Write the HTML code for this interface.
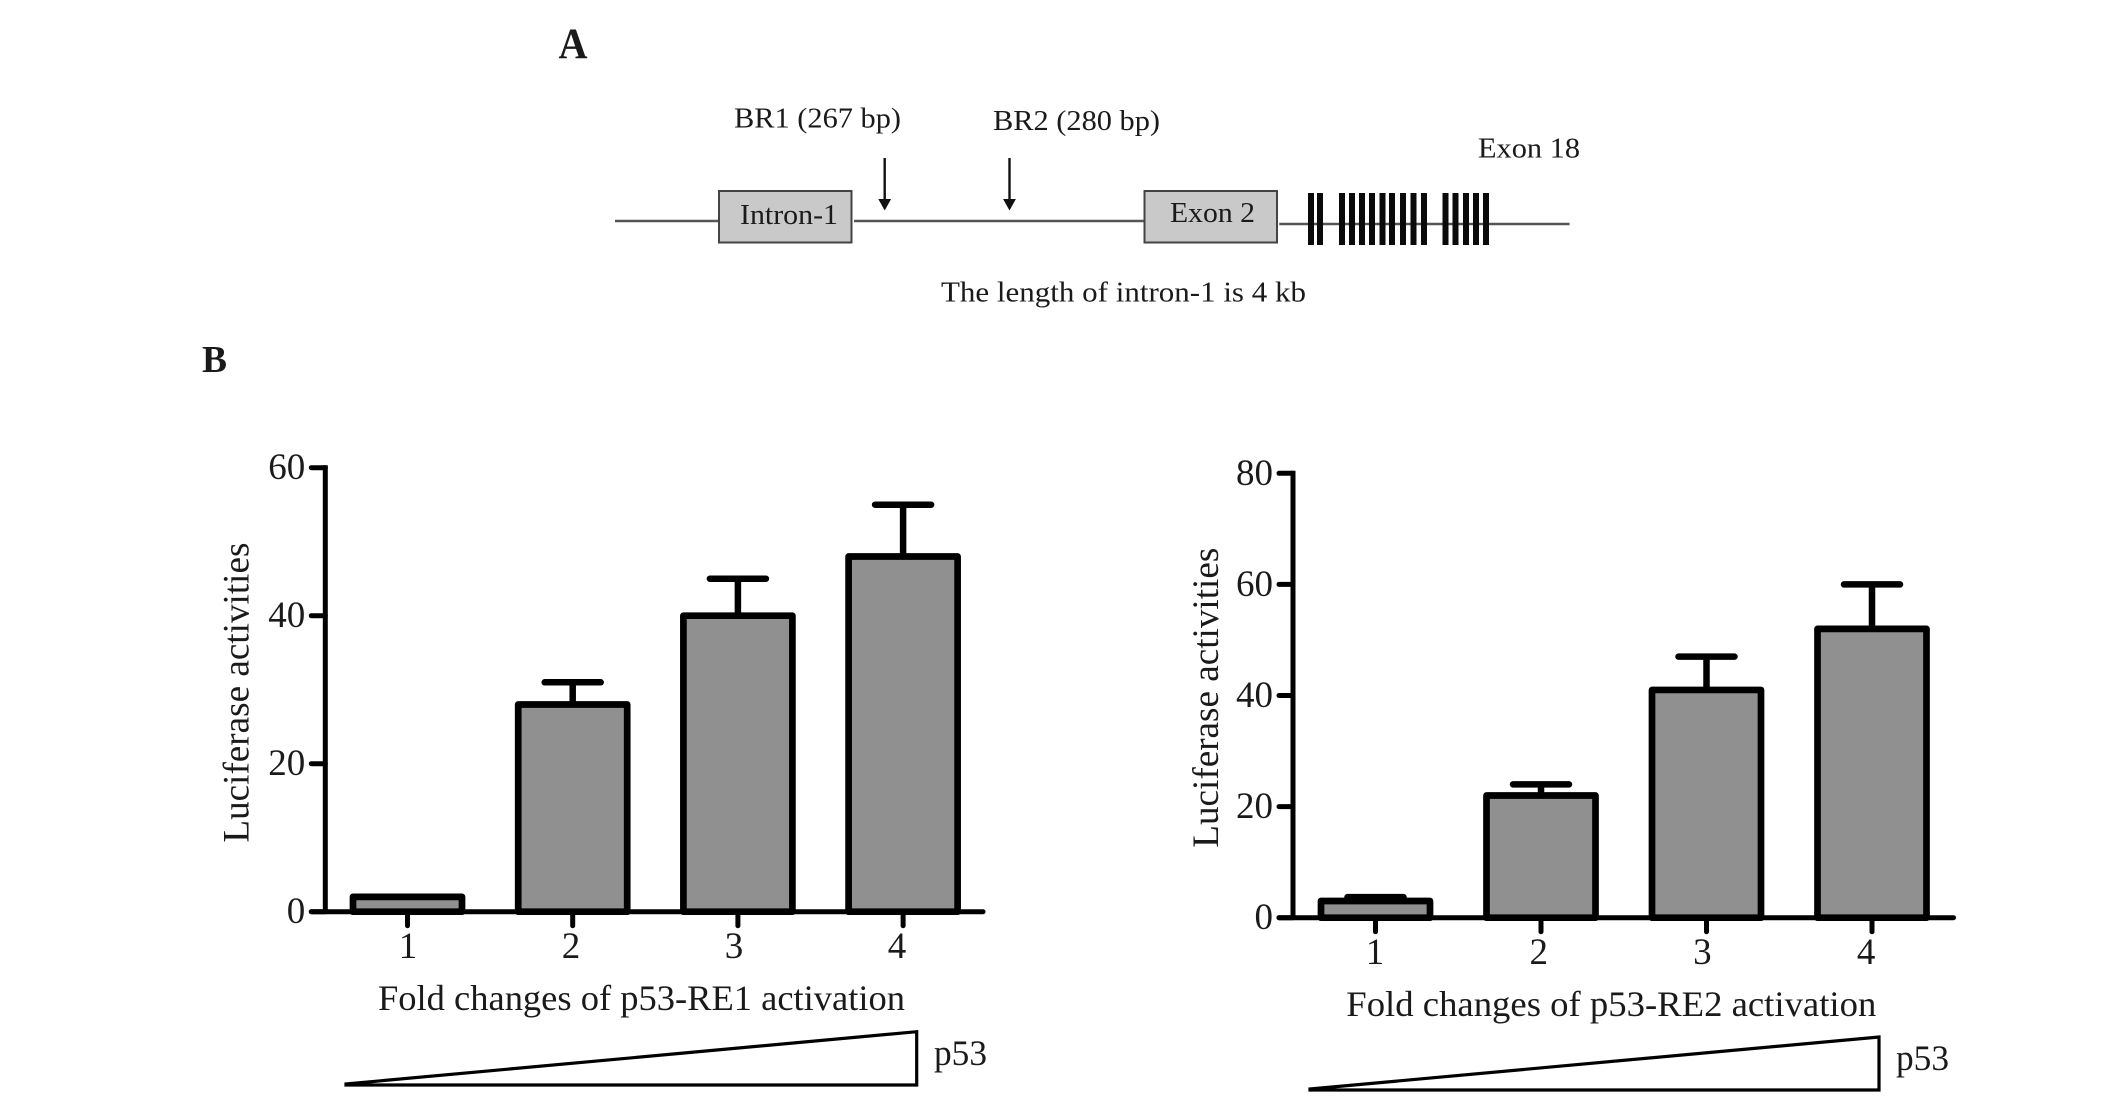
<!DOCTYPE html>
<html lang="en">
<head>
<meta charset="utf-8">
<title>p53 response elements and luciferase activity</title>
<style>
html,body{margin:0;padding:0;background:#fff;}
svg{display:block;}
text{font-family:"Liberation Serif",serif;fill:#1a1a1a;}
</style>
</head>
<body>
<svg id="fig" xmlns="http://www.w3.org/2000/svg" width="2126" height="1101" viewBox="0 0 2126 1101">
  <rect x="0" y="0" width="2126" height="1101" fill="#fff"/>

  <g>
    <text x="558.5" y="58" font-size="43" font-weight="bold" textLength="29" lengthAdjust="spacingAndGlyphs">A</text>
    <text x="734" y="127.7" font-size="29" textLength="167" lengthAdjust="spacingAndGlyphs">BR1 (267 bp)</text>
    <text x="993" y="130" font-size="29" textLength="167" lengthAdjust="spacingAndGlyphs">BR2 (280 bp)</text>
    <text x="1478" y="157.7" font-size="29" textLength="102" lengthAdjust="spacingAndGlyphs">Exon 18</text>

    <g>
      <line x1="884.7" y1="158" x2="884.7" y2="202" stroke="#111" stroke-width="2.4"/>
      <polygon points="878.3,199 891.1,199 884.7,210.5" fill="#111"/>
    </g>
    <g>
      <line x1="1009.5" y1="158" x2="1009.5" y2="202" stroke="#111" stroke-width="2.4"/>
      <polygon points="1003.1,199 1015.9,199 1009.5,210.5" fill="#111"/>
    </g>

    <line x1="615" y1="221" x2="718" y2="221" stroke="#555" stroke-width="2.4"/>
    <line x1="854" y1="221" x2="1145" y2="221" stroke="#555" stroke-width="2.4"/>
    <line x1="1279.3" y1="224" x2="1569.6" y2="224" stroke="#555" stroke-width="2.4"/>

    <rect x="719" y="191" width="132.5" height="51.5" fill="#c9c9c9" stroke="#444" stroke-width="2"/>
    <text x="740" y="224" font-size="29" textLength="98" lengthAdjust="spacingAndGlyphs">Intron-1</text>
    <rect x="1144.5" y="191" width="132.5" height="51.5" fill="#c9c9c9" stroke="#444" stroke-width="2"/>
    <text x="1170" y="222" font-size="29" textLength="85" lengthAdjust="spacingAndGlyphs">Exon 2</text>

    <g fill="#0a0a0a">
      <rect x="1308" y="193" width="6" height="52"/><rect x="1317" y="193" width="6" height="52"/>
      <rect x="1339" y="193" width="6" height="52"/><rect x="1349" y="193" width="6" height="52"/>
      <rect x="1359" y="193" width="6" height="52"/><rect x="1369" y="193" width="6" height="52"/>
      <rect x="1379.5" y="193" width="6" height="52"/><rect x="1389" y="193" width="6" height="52"/>
      <rect x="1400" y="193" width="6" height="52"/><rect x="1410.5" y="193" width="6" height="52"/>
      <rect x="1421" y="193" width="6" height="52"/>
      <rect x="1442.5" y="193" width="6" height="52"/><rect x="1452.5" y="193" width="6" height="52"/>
      <rect x="1463" y="193" width="6" height="52"/><rect x="1473" y="193" width="6" height="52"/>
      <rect x="1483" y="193" width="6" height="52"/>
    </g>

    <text x="941" y="301.7" font-size="29" textLength="365" lengthAdjust="spacingAndGlyphs">The length of intron-1 is 4 kb</text>
  </g>

  <text x="202" y="372" font-size="38" font-weight="bold" textLength="25" lengthAdjust="spacingAndGlyphs">B</text>
  <g id="chart-left"></g>
  <g id="chart-right"></g>
</svg>

<script>
var categories = [1, 2, 3, 4];

var re1Values = [2, 28, 40, 48];
var re1ErrorTops = [2, 31, 45, 55];
var re1Ticks = [0, 20, 40, 60];
var re1XLabel = 'Fold changes of p53-RE1 activation';

var re2Values = [3, 22, 41, 52];
var re2ErrorTops = [3.7, 24, 47, 60];
var re2Ticks = [0, 20, 40, 60, 80];
var re2XLabel = 'Fold changes of p53-RE2 activation';

var yTitle = 'Luciferase activities';
var rampLabel = 'p53';

var NS = 'http://www.w3.org/2000/svg';

function make(parent, tag, attrs, content) {
  var el = document.createElementNS(NS, tag);
  for (var k in attrs) { el.setAttribute(k, attrs[k]); }
  if (content !== undefined) { el.textContent = content; }
  parent.appendChild(el);
  return el;
}

function drawChart(root, values, errorTops, ticks, xLabel, L) {
  function yScale(v) {
    return L.y0 + (L.yMax - L.y0) * v / L.domainMax;
  }
  function xScale(c) {
    return L.x1 + (c - 1) * L.step;
  }
  function labelX(c) {
    return L.labelX1 + (c - 1) * L.labelStep;
  }

  var i, top, el;

  for (i = 0; i < categories.length; i++) {
    var cx = xScale(categories[i]);
    top = yScale(values[i]);
    var errY = yScale(errorTops[i]);

    el = make(root, 'line', { x1: cx, y1: top, x2: cx, y2: errY, stroke: '#000', 'stroke-width': 6.5 });
    
    

    el = make(root, 'line', { x1: cx - 28, y1: errY, x2: cx + 28, y2: errY, stroke: '#000', 'stroke-width': 6.5, 'stroke-linecap': 'round' });
    
    

    el = make(root, 'rect', { x: cx - 54.5, y: top, width: 109, height: L.y0 - top, fill: '#909090', stroke: '#000', 'stroke-width': 6.7, 'stroke-linejoin': 'round' });
    
    

    el = make(root, 'line', { x1: cx, y1: L.y0, x2: cx, y2: L.y0 + 14, stroke: '#000', 'stroke-width': 5, 'stroke-linecap': 'round' });
    
    

    el = make(root, 'text', { x: labelX(categories[i]), y: L.y0 + 46.5, 'font-size': 37, 'text-anchor': 'middle' }, String(categories[i]));
    
    
  }

  for (i = 0; i < ticks.length; i++) {
    var ty = yScale(ticks[i]);

    el = make(root, 'line', { x1: L.axisX - 14, y1: ty, x2: L.axisX, y2: ty, stroke: '#000', 'stroke-width': 5, 'stroke-linecap': 'round' });
    
    

    el = make(root, 'text', { x: L.axisX - 20, y: ty + 11.5, 'font-size': 37, 'text-anchor': 'end' }, String(ticks[i]));
    
    
  }

  el = make(root, 'line', { x1: L.axisX, y1: yScale(ticks[ticks.length - 1]) - 2.5, x2: L.axisX, y2: L.y0, stroke: '#000', 'stroke-width': 5 });
  
  

  el = make(root, 'line', { x1: L.axisX - 14, y1: L.y0, x2: L.axisEnd, y2: L.y0, stroke: '#000', 'stroke-width': 5, 'stroke-linecap': 'round' });
  
  

  el = make(root, 'text', { x: 0, y: 0, 'font-size': 37, 'text-anchor': 'middle', textLength: 300, lengthAdjust: 'spacingAndGlyphs', transform: 'translate(' + L.titleX + ' ' + L.titleY + ') rotate(-90)' }, yTitle);
  
  

  el = make(root, 'text', { x: L.foldX, y: L.foldY, 'font-size': 36, textLength: L.foldW, lengthAdjust: 'spacingAndGlyphs' }, xLabel);
  
  

  el = make(root, 'polygon', { points: L.triLeft + ',' + (L.triBottom - 1) + ' ' + L.triRight + ',' + L.triTop + ' ' + L.triRight + ',' + L.triBottom + ' ' + L.triLeft + ',' + L.triBottom, fill: '#fff', stroke: '#000', 'stroke-width': 3.2 });
  
  

  el = make(root, 'text', { x: L.rampX, y: L.rampY, 'font-size': 36, textLength: 53, lengthAdjust: 'spacingAndGlyphs' }, rampLabel);
  
  
}

drawChart(document.getElementById('chart-left'), re1Values, re1ErrorTops, re1Ticks, re1XLabel, {
  domainMax: 60, y0: 911.7, yMax: 467.7, axisX: 325.3, axisEnd: 983,
  x1: 407.5, step: 165.2, labelX1: 408, labelStep: 163,
  titleX: 248.5, titleY: 692.6, foldX: 378, foldY: 1010, foldW: 527,
  triLeft: 346, triRight: 916.7, triTop: 1031.7, triBottom: 1085,
  rampX: 934, rampY: 1065
});

drawChart(document.getElementById('chart-right'), re2Values, re2ErrorTops, re2Ticks, re2XLabel, {
  domainMax: 80, y0: 917.7, yMax: 473.3, axisX: 1293, axisEnd: 1953.5,
  x1: 1375.5, step: 165.5, labelX1: 1375, labelStep: 163.7,
  titleX: 1218, titleY: 697.7, foldX: 1346.3, foldY: 1015.8, foldW: 530,
  triLeft: 1310, triRight: 1879, triTop: 1037, triBottom: 1090,
  rampX: 1896, rampY: 1070
});
</script>
</body>
</html>
